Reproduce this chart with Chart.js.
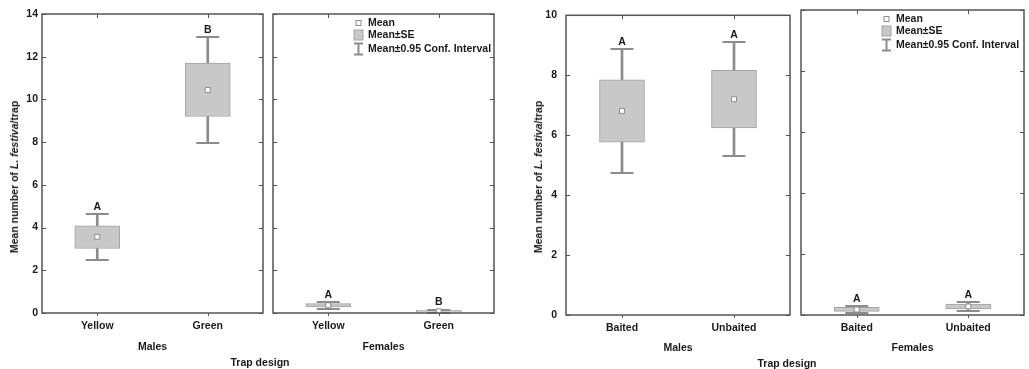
<!DOCTYPE html>
<html><head><meta charset="utf-8">
<script src="https://cdn.jsdelivr.net/npm/chart.js@4.4.0/dist/chart.umd.min.js"></script>
<style>
body{margin:0;background:#fff;}
#wrap{position:relative;width:1029px;height:369px;overflow:hidden;background:#fff;font-family:"Liberation Sans",Arial,sans-serif;font-weight:bold;font-size:10.5px;color:#1a1a1a;}
canvas{position:absolute;top:0;}
.ytitle{position:absolute;white-space:nowrap;transform:translate(-50%,-50%) rotate(-90deg);}
.xtitle{position:absolute;white-space:nowrap;transform:translate(-50%,-50%);}
</style></head><body>
<div id="wrap">
<canvas id="c1" width="268" height="369" style="left:0px;width:268px;height:369px"></canvas>
<canvas id="c2" width="231" height="369" style="left:268px;width:231px;height:369px"></canvas>
<canvas id="c3" width="275" height="369" style="left:520px;width:275px;height:369px"></canvas>
<canvas id="c4" width="234" height="369" style="left:795px;width:234px;height:369px"></canvas>
<div class="ytitle" style="left:14px;top:177px">Mean number of <i>L. festiva</i>/trap</div>
<div class="xtitle" style="left:260px;top:362px">Trap design</div>
<div class="ytitle" style="left:538px;top:177px">Mean number of <i>L. festiva</i>/trap</div>
<div class="xtitle" style="left:787px;top:363px">Trap design</div>
</div>
<script>
// ---- data ----
const colourCategories = ['Yellow', 'Green'];
const baitCategories = ['Baited', 'Unbaited'];

const colourMalesMean = [3.57, 10.44];
const colourMalesSE = [[3.02, 4.08], [9.2, 11.7]];
const colourMalesCI = [[2.5, 4.62], [7.97, 12.93]];
const colourMalesLetters = ['A', 'B'];

const colourFemalesMean = [0.36, 0.08];
const colourFemalesSE = [[0.28, 0.44], [0.04, 0.13]];
const colourFemalesCI = [[0.2, 0.52], [0.01, 0.16]];
const colourFemalesLetters = ['A', 'B'];

const baitMalesMean = [6.81, 7.2];
const baitMalesSE = [[5.77, 7.85], [6.24, 8.16]];
const baitMalesCI = [[4.73, 8.88], [5.3, 9.1]];
const baitMalesLetters = ['A', 'A'];

const baitFemalesMean = [0.18, 0.28];
const baitFemalesSE = [[0.12, 0.25], [0.2, 0.36]];
const baitFemalesCI = [[0.06, 0.3], [0.12, 0.43]];
const baitFemalesLetters = ['A', 'A'];

const colourYMax = 14;
const baitYMax = 10;
const yStep = 2;
const legendLabels = ['Mean', 'Mean\u00b1SE', 'Mean\u00b10.95 Conf. Interval'];

// ---- style ----
const FONT = {family: '"Liberation Sans", Arial, sans-serif', size: 10.5, weight: 'bold'};
const TEXT = '#1a1a1a';
const BOXFILL = '#c8c8c8';
const BOXLINE = '#a3a3a3';
const WHISK = '#8c8c8c';
const FRAME = '#555555';
Chart.defaults.font.family = FONT.family;

const panelPlugin = {
  id: 'panelPlugin',
  afterDatasetDraw(chart, args, opts) {
    if (args.index !== 1) return; // after box dataset: draw caps
    const ctx = chart.ctx, xs = chart.scales.x, ys = chart.scales.y;
    ctx.save();
    ctx.strokeStyle = WHISK; ctx.lineWidth = 2;
    opts.ci.forEach((c, i) => {
      const x = xs.getPixelForValue(i);
      c.forEach(v => {
        const y = Math.round(ys.getPixelForValue(v));
        ctx.beginPath(); ctx.moveTo(x - 11.5, y); ctx.lineTo(x + 11.5, y); ctx.stroke();
      });
    });
    ctx.restore();
  },
  afterDraw(chart, args, opts) {
    const ctx = chart.ctx, a = chart.chartArea, xs = chart.scales.x, ys = chart.scales.y;
    ctx.save();
    // frame
    ctx.strokeStyle = FRAME; ctx.lineWidth = 1.5;
    ctx.strokeRect(a.left, a.top, a.right - a.left, a.bottom - a.top);
    // tick marks
    ctx.lineWidth = 1;
    ys.ticks.forEach(t => {
      const y = Math.round(ys.getPixelForValue(t.value)) + 0.5;
      ctx.beginPath(); ctx.moveTo(a.left, y); ctx.lineTo(a.left + 4, y); ctx.stroke();
      ctx.beginPath(); ctx.moveTo(a.right, y); ctx.lineTo(a.right - 4, y); ctx.stroke();
    });
    opts.labels.forEach((l, i) => {
      const x = Math.round(xs.getPixelForValue(i)) + 0.5;
      ctx.beginPath(); ctx.moveTo(x, a.top); ctx.lineTo(x, a.top + 4); ctx.stroke();
      ctx.beginPath(); ctx.moveTo(x, a.bottom); ctx.lineTo(x, a.bottom + 3); ctx.stroke();
    });
    // letters
    ctx.fillStyle = TEXT;
    ctx.font = 'bold 10.5px ' + FONT.family;
    ctx.textAlign = 'center'; ctx.textBaseline = 'middle';
    opts.letters.forEach((l, i) => {
      ctx.fillText(l, xs.getPixelForValue(i), ys.getPixelForValue(opts.ci[i][1]) - 7);
    });
    // legend
    if (opts.legend) {
      const sx = a.left + 85.5, tx = a.left + 95;
      const y1 = a.top + 9, y2 = a.top + 21, y3 = a.top + 35;
      ctx.fillStyle = '#fff'; ctx.strokeStyle = WHISK; ctx.lineWidth = 1;
      ctx.fillRect(sx - 2.5, y1 - 2.5, 5, 5); ctx.strokeRect(sx - 2.5, y1 - 2.5, 5, 5);
      ctx.fillStyle = BOXFILL; ctx.strokeStyle = BOXLINE;
      ctx.fillRect(sx - 4.5, y2 - 5, 9, 10); ctx.strokeRect(sx - 4.5, y2 - 5, 9, 10);
      ctx.strokeStyle = WHISK; ctx.lineWidth = 2;
      ctx.beginPath();
      ctx.moveTo(sx, y3 - 5.5); ctx.lineTo(sx, y3 + 5.5);
      ctx.moveTo(sx - 4.5, y3 - 5.5); ctx.lineTo(sx + 4.5, y3 - 5.5);
      ctx.moveTo(sx - 4.5, y3 + 5.5); ctx.lineTo(sx + 4.5, y3 + 5.5);
      ctx.stroke();
      ctx.fillStyle = TEXT; ctx.textAlign = 'left';
      ctx.fillText(legendLabels[0], tx, y1);
      ctx.fillText(legendLabels[1], tx, y2);
      ctx.fillText(legendLabels[2], tx, y3);
    }
    ctx.restore();
  }
};

function makePanel(id, p) {
  const H = 369;
  new Chart(document.getElementById(id), {
    type: 'bar',
    data: {
      labels: p.labels,
      datasets: [
        {type: 'line', data: p.mean, showLine: false, pointStyle: 'rect', pointRadius: 3.5,
         pointBackgroundColor: '#ffffff', pointBorderColor: WHISK, pointBorderWidth: 1, order: 0},
        {data: p.se, barThickness: 45, backgroundColor: BOXFILL, borderColor: BOXLINE,
         borderWidth: 1, borderSkipped: false, grouped: false, order: 1},
        {data: p.ci, barThickness: 2, backgroundColor: WHISK, borderWidth: 0, grouped: false, order: 2}
      ]
    },
    options: {
      responsive: false, animation: false, events: [],
      layout: {padding: {left: p.padL, right: p.padR, top: p.top, bottom: 0}},
      plugins: {
        legend: {display: false}, tooltip: {enabled: false},
        panelPlugin: {ci: p.ci, letters: p.letters, labels: p.labels, legend: p.legend}
      },
      scales: {
        x: {
          type: 'category', offset: true,
          grid: {display: false, drawTicks: false}, border: {display: false},
          ticks: {font: FONT, color: TEXT, padding: 7, maxRotation: 0},
          title: {display: true, text: p.sex, font: FONT, color: TEXT, padding: {top: 0, bottom: p.titlePad}},
          afterFit: s => { s.height = H - p.bottom; }
        },
        y: {
          type: 'linear', min: 0, max: p.yMax, display: p.showY,
          grid: {display: false, drawTicks: false}, border: {display: false},
          ticks: {stepSize: yStep, font: FONT, color: TEXT, padding: p.yPad},
          afterFit: s => { if (p.showY) s.width = p.yWidth; }
        }
      }
    },
    plugins: [panelPlugin]
  });
}

makePanel('c1', {labels: colourCategories, mean: colourMalesMean, se: colourMalesSE, ci: colourMalesCI,
  letters: colourMalesLetters, yMax: colourYMax, showY: true, yWidth: 42, yPad: 4, padL: 0, padR: 5,
  top: 14, bottom: 313, sex: 'Males', titlePad: 15.5, legend: false});
makePanel('c2', {labels: colourCategories, mean: colourFemalesMean, se: colourFemalesSE, ci: colourFemalesCI,
  letters: colourFemalesLetters, yMax: colourYMax, showY: false, padL: 4, padR: 5,
  top: 14, bottom: 313, sex: 'Females', titlePad: 15.5, legend: true});
makePanel('c3', {labels: baitCategories, mean: baitMalesMean, se: baitMalesSE, ci: baitMalesCI,
  letters: baitMalesLetters, yMax: baitYMax, showY: true, yWidth: 46, yPad: 9, padL: 0, padR: 5,
  top: 10, bottom: 315, sex: 'Males', titlePad: 14.5, legend: false});
makePanel('c4', {labels: baitCategories, mean: baitFemalesMean, se: baitFemalesSE, ci: baitFemalesCI,
  letters: baitFemalesLetters, yMax: baitYMax, showY: false, padL: 6, padR: 4,
  top: 10, bottom: 315, sex: 'Females', titlePad: 14.5, legend: true});
</script>
</body></html>
